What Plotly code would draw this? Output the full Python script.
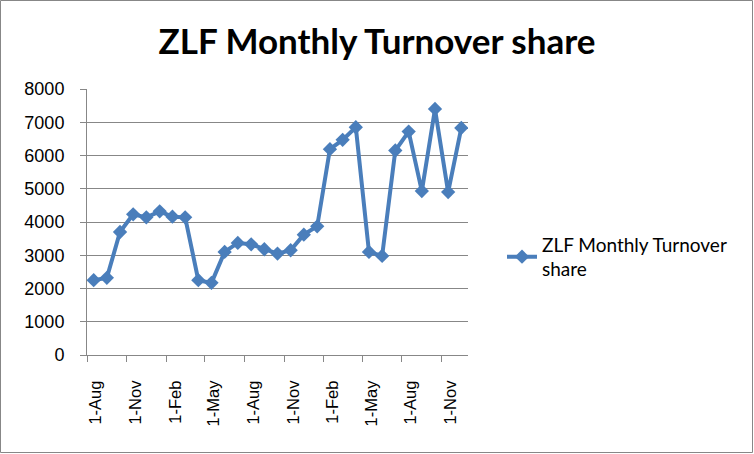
import plotly.graph_objects as go

months = ["2008-08-01","2008-09-01","2008-10-01","2008-11-01","2008-12-01",
          "2009-01-01","2009-02-01","2009-03-01","2009-04-01","2009-05-01","2009-06-01",
          "2009-07-01","2009-08-01","2009-09-01","2009-10-01","2009-11-01","2009-12-01",
          "2010-01-01","2010-02-01","2010-03-01","2010-04-01","2010-05-01","2010-06-01",
          "2010-07-01","2010-08-01","2010-09-01","2010-10-01","2010-11-01","2010-12-01"]
turnover = [2250, 2320, 3700, 4230, 4140, 4320, 4160, 4140, 2250, 2170, 3100,
            3370, 3330, 3180, 3050, 3150, 3620, 3870, 6190, 6470, 6850, 3100,
            2980, 6150, 6720, 4930, 7400, 4900, 6830]
series_name = "ZLF Monthly Turnover<br>share"
title_text = "ZLF Monthly Turnover share"

W, H = 754, 454
L, R, T, B = 87, 286, 89, 99
pw, ph = W - L - R, H - T - B

fig = go.Figure()
fig.add_trace(go.Scatter(
    x=months, y=turnover, name=series_name, mode="lines+markers",
    xperiod="M1", xperiodalignment="middle",
    line=dict(color="#4A7EBB", width=4),
    marker=dict(symbol="diamond", size=11, color="#4A7EBB"),
))

fig.update_layout(
    width=W, height=H,
    margin=dict(l=L, r=R, t=T, b=B),
    paper_bgcolor="white", plot_bgcolor="white",
    title=dict(text="<b>" + title_text + "</b>", x=0.5, xref="container", xanchor="center",
               y=1 - 42 / H, yanchor="middle",
               font=dict(family="Lato", size=35, color="black")),
    showlegend=True,
    legend=dict(x=(502 - L) / pw, y=(355 - 257) / ph, xanchor="left", yanchor="middle",
                font=dict(family="Lato", size=19, color="#000"),
                bgcolor="rgba(0,0,0,0)"),
    font=dict(family="Liberation Sans", size=14, color="black"),
)
fig.update_xaxes(
    type="date", range=["2008-08-01", "2011-01-01"],
    tick0="2008-08-01", dtick="M3", tickformat="%-d-%b", tickangle=-90,
    ticks="outside", ticklen=6, tickcolor="#878787",
    ticklabelstandoff=12, ticklabelshift=9,
    showline=True, linecolor="#878787", linewidth=1,
    showgrid=False, zeroline=False,
    tickfont=dict(family="Liberation Sans", size=16.5, color="black"),
)
fig.update_yaxes(
    range=[0, 8000], dtick=1000,
    ticks="outside", ticklen=6, tickcolor="#878787", ticklabelstandoff=12,
    showline=True, linecolor="#878787", linewidth=1,
    showgrid=True, gridcolor="#878787", gridwidth=1, zeroline=False,
    tickfont=dict(family="Liberation Sans", size=18, color="black"),
)
fig.add_shape(type="rect", xref="paper", yref="paper",
              x0=(0.5 - L) / pw, x1=(W - 1.5 - L) / pw,
              y0=-(B - 1.5) / ph, y1=1 + (T - 0.5) / ph,
              line=dict(color="#878787", width=1))

fig.write_html("out.html", config={"displayModeBar": False},
               post_script="document.body.style.margin='0';")
